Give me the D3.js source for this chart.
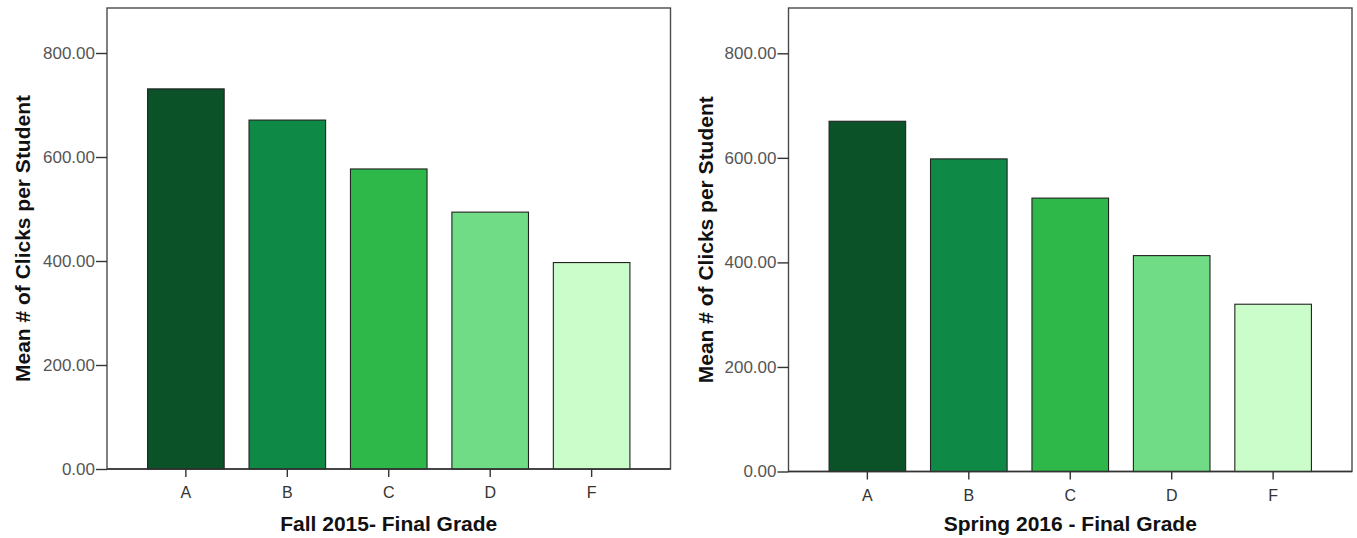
<!DOCTYPE html>
<html>
<head>
<meta charset="utf-8">
<script src="https://cdn.jsdelivr.net/npm/d3@7"></script>
<style>
  html, body { margin: 0; padding: 0; background: #fff; }
  svg { display: block; }
</style>
</head>
<body>
<svg id="chart" width="1357" height="538"></svg>
<script>
const categories = ["A", "B", "C", "D", "F"];
const fall2015Values = [731, 671, 577, 494, 397];
const spring2016Values = [670, 598, 523, 413, 320];
const yTicks = [0, 200, 400, 600, 800];
const barColors = ["#0b5229", "#0f8a46", "#2fb84a", "#70dc85", "#cbfdca"];
const yTitle = "Mean # of Clicks per Student";
const xTitles = ["Fall 2015- Final Grade", "Spring 2016 - Final Grade"];

const svg = d3.select("#chart");
const FONT = "Arial, 'Liberation Sans', sans-serif";

function drawPanel(layout, values, xTitle) {
  const g = svg.append("g");
  const x = d3.scaleBand().domain(categories)
    .range([layout.left, layout.right])
    .paddingInner(0.245).paddingOuter(0.4);
  const y = d3.scaleLinear().domain([0, 800])
    .range([layout.bottom, layout.y800]);

  // frame
  g.append("rect")
    .attr("x", layout.left).attr("y", layout.top)
    .attr("width", layout.right - layout.left)
    .attr("height", layout.bottom - layout.top)
    .attr("fill", "#fff").attr("stroke", "#4a4a4a").attr("stroke-width", 1.4);

  // bars
  g.selectAll("rect.bar").data(values).join("rect")
    .attr("class", "bar")
    .attr("x", (d, i) => x(categories[i]))
    .attr("width", x.bandwidth())
    .attr("y", d => y(d))
    .attr("height", d => y(0) - y(d))
    .attr("fill", (d, i) => barColors[i])
    .attr("stroke", "#222").attr("stroke-width", 1.1);

  // y axis
  const yAxis = g.append("g")
    .attr("transform", `translate(${layout.left},0)`)
    .call(d3.axisLeft(y).tickValues(yTicks).tickFormat(d3.format(".2f"))
      .tickSize(11).tickPadding(1));
  yAxis.select(".domain").remove();
  yAxis.selectAll("line").attr("stroke", "#333").attr("stroke-width", 1.4);
  yAxis.selectAll("text").attr("fill", "#555")
    .style("font-family", FONT).style("font-size", "17px");

  // x axis
  const xAxis = g.append("g")
    .attr("transform", `translate(0,${layout.bottom})`)
    .call(d3.axisBottom(x).tickSize(8).tickPadding(10));
  xAxis.select(".domain").remove();
  xAxis.selectAll("line").attr("stroke", "#333").attr("stroke-width", 1.4);
  xAxis.selectAll("text").attr("fill", "#333")
    .style("font-family", FONT).style("font-size", "16px");

  // baseline redraw
  g.append("line")
    .attr("x1", layout.left).attr("x2", layout.right)
    .attr("y1", layout.bottom).attr("y2", layout.bottom)
    .attr("stroke", "#333").attr("stroke-width", 1.4);

  // y title
  g.append("text")
    .attr("transform", `translate(${layout.yTitleX},${(layout.top + layout.bottom) / 2}) rotate(-90)`)
    .attr("text-anchor", "middle")
    .style("font-family", FONT).style("font-size", "21px").style("font-weight", "bold")
    .attr("fill", "#111")
    .text(yTitle);

  // x title
  g.append("text")
    .attr("x", (layout.left + layout.right) / 2)
    .attr("y", 531)
    .attr("text-anchor", "middle")
    .style("font-family", FONT).style("font-size", "21px").style("font-weight", "bold")
    .attr("fill", "#111")
    .text(xTitle);
}

drawPanel({ left: 107, right: 670.5, top: 8, bottom: 469, y800: 53, yTitleX: 29.5 },
  fall2015Values, xTitles[0]);
drawPanel({ left: 788.5, right: 1352, top: 8, bottom: 471.5, y800: 53.3, yTitleX: 713 },
  spring2016Values, xTitles[1]);
</script>
</body>
</html>
